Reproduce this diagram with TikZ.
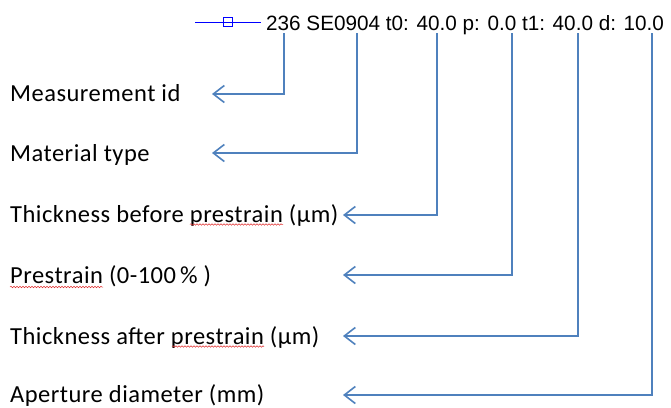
\documentclass[tikz,border=0pt]{standalone}
\usepackage{fontspec}
\setmainfont{Carlito}[LetterSpace=2]
\newfontfamily\headfont{Liberation Sans}
\usetikzlibrary{arrows.meta,decorations.pathmorphing}
\definecolor{linkblue}{HTML}{4F81BD}
\definecolor{markblue}{HTML}{0000FF}
\definecolor{spellred}{HTML}{E03030}
\tikzset{
  fieldlabel/.style={anchor=base west, inner sep=0pt, font=\fontsize{24.5}{28}\selectfont},
  headtext/.style={anchor=base west, inner sep=0pt, font=\headfont\fontsize{20.7}{24}\selectfont},
  pointer/.style={draw=linkblue, line width=1.6pt, line join=miter,
    -{Straight Barb[length=11pt,width=17pt,line width=1.6pt]}},
  legendline/.style={draw=markblue, line width=0.8pt},
  squiggle/.style={draw=spellred, line width=0.5pt,
    decorate, decoration={snake, amplitude=0.8pt, segment length=3pt}}
}
\begin{document}
\begin{tikzpicture}[x=1pt,y=-1pt]
  \useasboundingbox (0,0) rectangle (671,407);

  % legend sample and record header
  \draw[legendline] (195,22) -- (261,22);
  \draw[legendline] (223.5,17.5) rectangle (232.5,26.5);
  \node[headtext] (head) at (266,30) {236 SE0904 t0: 40.0 p: 0.0 t1: 40.0 d: 10.0};

  % field descriptions
  \node[fieldlabel] (lid)  at (10,101) {Measurement id};
  \node[fieldlabel] (lmat) at (10,161) {Material type};
  \node[fieldlabel] (lt0)  at (10,222) {Thickness before prestrain (µm)};
  \node[fieldlabel] (lp)   at (10,283) {Prestrain (0-100\,\% )};
  \node[fieldlabel] (lt1)  at (10,344) {Thickness after prestrain (µm)};
  \node[fieldlabel] (ld)   at (10,402) {Aperture diameter (mm)};

  % spell-check marks
  \draw[squiggle] (190,224.5) -- (283,224.5);
  \draw[squiggle] (10,287) -- (103,287);
  \draw[squiggle] (172,346.5) -- (264,346.5);

  % start points under the header fields
  \coordinate (sid)  at (284,33);
  \coordinate (smat) at (357,33);
  \coordinate (st0)  at (437,33);
  \coordinate (sp)   at (512,33);
  \coordinate (st1)  at (578,33);
  \coordinate (sd)   at (652,33);

  % arrow tips beside the descriptions
  \coordinate (tid)  at (212,94);
  \coordinate (tmat) at (212,153);
  \coordinate (tt0)  at (343,215);
  \coordinate (tp)   at (343,275);
  \coordinate (tt1)  at (343,336);
  \coordinate (td)   at (343,395);

  \draw[pointer] (sid)  |- (tid);
  \draw[pointer] (smat) |- (tmat);
  \draw[pointer] (st0)  |- (tt0);
  \draw[pointer] (sp)   |- (tp);
  \draw[pointer] (st1)  |- (tt1);
  \draw[pointer] (sd)   |- (td);
\end{tikzpicture}
\end{document}
